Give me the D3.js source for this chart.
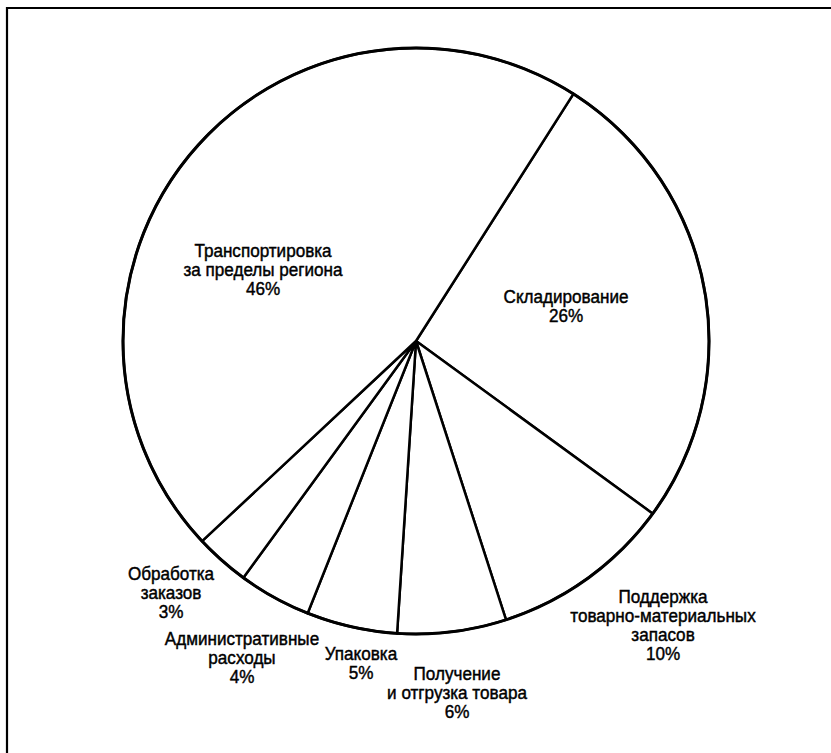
<!DOCTYPE html>
<html><head><meta charset="utf-8">
<script src="https://cdn.jsdelivr.net/npm/d3@7"></script>
<style>
html,body{margin:0;padding:0;background:#fff;}
svg{display:block;}
</style></head>
<body>
<svg id="chart" width="831" height="753"></svg>
<script>
// ---- data ----
const categories = [
  ["Складирование"],
  ["Поддержка", "товарно-материальных", "запасов"],
  ["Получение", "и отгрузка товара"],
  ["Упаковка"],
  ["Административные", "расходы"],
  ["Обработка", "заказов"],
  ["Транспортировка", "за пределы региона"]
];
const values = [26, 10, 6, 5, 4, 3, 46];
const valueLabels = ["26%", "10%", "6%", "5%", "4%", "3%", "46%"];

// ---- layout (label anchors: centre x, first baseline y) ----
const labelAnchors = [
  [566, 303], [663, 603], [457, 680], [361, 660], [242, 645], [171, 580], [263, 257]
];
const cx = 416, cy = 341, R = 293, lineH = 19;
const startDeg = 32.5;

const svg = d3.select("#chart");

// frame
svg.append("path")
  .attr("d", "M7,753 V8 H831")
  .attr("fill", "none").attr("stroke", "#000").attr("stroke-width", 2.2);

const pie = d3.pie().sort(null).value(d => d)
  .startAngle(startDeg * Math.PI / 180)
  .endAngle(startDeg * Math.PI / 180 + 2 * Math.PI);
const arc = d3.arc().innerRadius(0).outerRadius(R);

const g = svg.append("g").attr("transform", `translate(${cx},${cy})`);
g.selectAll("path.slice").data(pie(values)).join("path")
  .attr("class", "slice")
  .attr("d", arc)
  .attr("fill", "#fff")
  .attr("stroke", "#000")
  .attr("stroke-width", 2.5)
  .attr("stroke-linejoin", "round");

g.append("circle").attr("r", R).attr("fill", "none").attr("stroke", "#000").attr("stroke-width", 3);

// labels
const lab = svg.append("g")
  .attr("font-family", "'Liberation Sans', Arial, sans-serif")
  .attr("font-size", 19)
  .attr("fill", "#000")
  .attr("stroke", "#000")
  .attr("stroke-width", 0.45)
  .attr("text-anchor", "middle");

categories.forEach((lines, i) => {
  const [x, y] = labelAnchors[i];
  const all = lines.concat([valueLabels[i]]);
  const t = lab.append("text")
    .attr("transform", `translate(${x},${y}) scale(0.9,1)`);
  all.forEach((s, j) => {
    t.append("tspan").attr("x", 0).attr("dy", j === 0 ? 0 : lineH).text(s);
  });
});
</script>
</body></html>
